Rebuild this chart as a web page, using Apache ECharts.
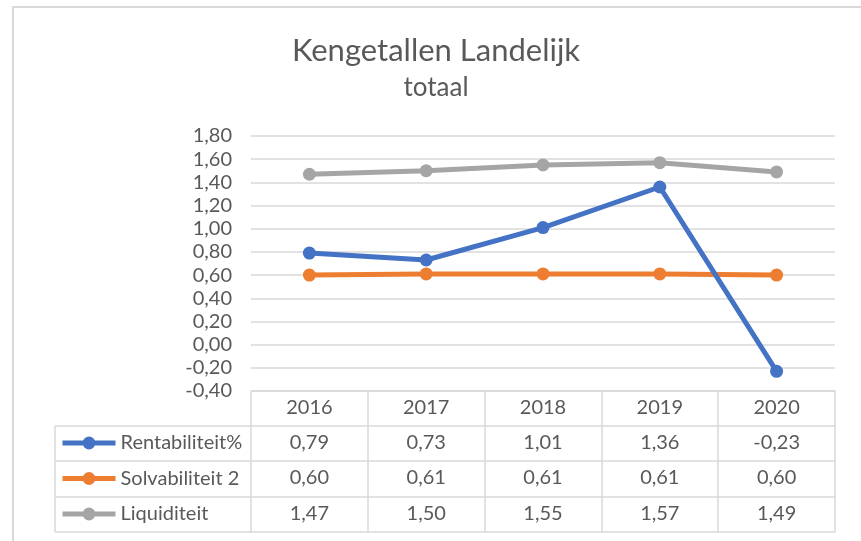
<!DOCTYPE html>
<html>
<head>
<meta charset="utf-8">
<script src="https://cdn.jsdelivr.net/npm/echarts@6/dist/echarts.min.js"></script>
<style>
  html, body { margin: 0; padding: 0; background: #fff; }
  #chart { width: 861px; height: 541px; }
</style>
</head>
<body>
<div id="chart"></div>
<script>
const years = ['2016', '2017', '2018', '2019', '2020']
const rentabiliteit = [0.79, 0.73, 1.01, 1.36, -0.23]
const solvabiliteit = [0.60, 0.61, 0.61, 0.61, 0.60]
const liquiditeit = [1.47, 1.50, 1.55, 1.57, 1.49]
const seriesNames = ['Rentabiliteit%', 'Solvabiliteit 2', 'Liquiditeit']
const colors = ['#4472C4', '#ED7D31', '#A5A5A5']

const font = 'Lato'
const textColor = '#595959'
const lineColor = '#d9d9d9'

// grid / table geometry
const gridLeft = 251
const gridRight = 26
const gridTop = 136
const gridBottomY = 391
const rowOffsets = [35, 70, 106, 141] // offsets of table row lines below the plot
const tableLeft = 55

const fmt = v => v.toFixed(2).replace('.', ',')

const tableRows = [rentabiliteit, solvabiliteit, liquiditeit]

const xAxes = [{
  type: 'category',
  data: years,
  position: 'bottom',
  axisLine: { show: true, onZero: false, lineStyle: { color: lineColor, width: 1.5 } },
  axisTick: { show: true, length: rowOffsets[3], lineStyle: { color: lineColor, width: 1.5 } },
  axisLabel: { interval: 0, margin: 7, fontSize: 20, color: textColor, fontFamily: font }
}]
tableRows.forEach((row, i) => {
  xAxes.push({
    type: 'category',
    data: years,
    position: 'bottom',
    offset: rowOffsets[i],
    axisLine: { show: true, onZero: false, lineStyle: { color: lineColor, width: 1.5 } },
    axisTick: { show: false },
    axisLabel: {
      interval: 0, margin: 7, fontSize: 20, color: textColor, fontFamily: font,
      formatter: (val, idx) => fmt(row[idx])
    }
  })
})
xAxes.push({
  type: 'category',
  data: years,
  position: 'bottom',
  offset: rowOffsets[3],
  axisLine: { show: true, onZero: false, lineStyle: { color: lineColor, width: 1.5 } },
  axisTick: { show: false },
  axisLabel: { show: false }
})

// left part of the table (legend column) + chart border
const graphics = [{
  type: 'rect',
  shape: { x: 13, y: 7, width: 900, height: 600 },
  style: { fill: 'none', stroke: lineColor, lineWidth: 2 },
  silent: true
}]
rowOffsets.forEach(o => {
  graphics.push({
    type: 'line',
    shape: { x1: tableLeft, y1: gridBottomY + o, x2: gridLeft, y2: gridBottomY + o },
    style: { stroke: lineColor, lineWidth: 1.5 },
    silent: true
  })
})
graphics.push({
  type: 'line',
  shape: { x1: tableLeft, y1: gridBottomY + rowOffsets[0], x2: tableLeft, y2: gridBottomY + rowOffsets[3] },
  style: { stroke: lineColor, lineWidth: 1.5 },
  silent: true
})

const chart = echarts.init(document.getElementById('chart'))
chart.setOption({
  animation: false,
  backgroundColor: '#fff',
  title: [{
    text: 'Kengetallen Landelijk',
    left: 436,
    top: 35,
    padding: 0,
    textAlign: 'center',
    textStyle: { fontSize: 31, fontWeight: 'normal', color: textColor, fontFamily: font }
  }, {
    text: 'totaal',
    left: 436,
    top: 75,
    padding: 0,
    textAlign: 'center',
    textStyle: { fontSize: 26, fontWeight: 'normal', color: textColor, fontFamily: font }
  }],
  legend: {
    orient: 'vertical',
    left: 60,
    top: 433,
    padding: 0,
    itemWidth: 53,
    itemHeight: 16,
    itemGap: 15.5,
    selectedMode: false,
    lineStyle: { width: 5 },
    textStyle: { fontSize: 20, lineHeight: 20, color: textColor, fontFamily: font },
    data: seriesNames
  },
  grid: {
    left: gridLeft,
    right: gridRight,
    top: gridTop,
    bottom: 541 - gridBottomY
  },
  xAxis: xAxes,
  yAxis: {
    type: 'value',
    min: -0.4,
    max: 1.8,
    interval: 0.2,
    axisLine: { show: false },
    axisTick: { show: false },
    axisLabel: { margin: 19, fontSize: 20, color: textColor, fontFamily: font, formatter: fmt },
    splitLine: { lineStyle: { color: lineColor, width: 1.5 } }
  },
  graphic: graphics,
  series: [
    { name: seriesNames[0], data: rentabiliteit, z: 4 },
    { name: seriesNames[1], data: solvabiliteit, z: 2 },
    { name: seriesNames[2], data: liquiditeit, z: 3 }
  ].map((s, i) => Object.assign({
    type: 'line',
    xAxisIndex: 0,
    symbol: 'circle',
    symbolSize: 13,
    lineStyle: { width: 5, color: colors[i] },
    itemStyle: { color: colors[i] },
    emphasis: { disabled: true }
  }, s))
})
</script>
</body>
</html>
